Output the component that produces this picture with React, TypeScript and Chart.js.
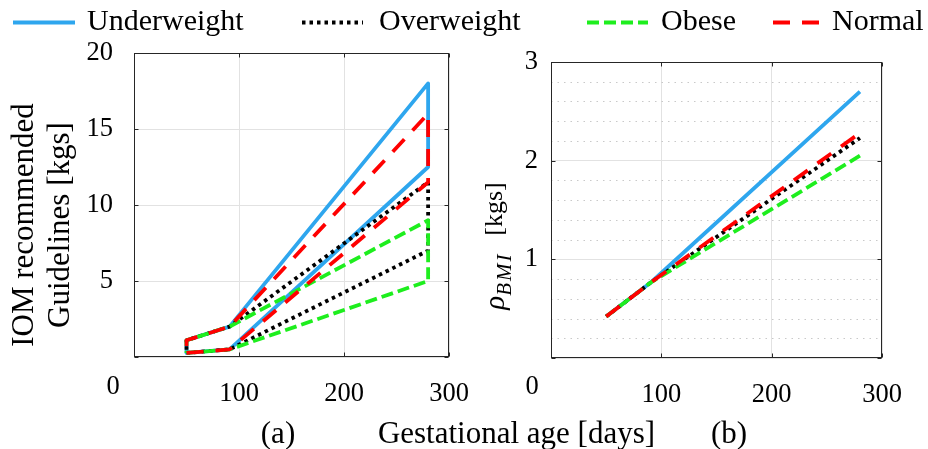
import React, { useEffect, useRef } from 'react';
import { Chart, registerables } from 'chart.js';

Chart.register(...registerables);

// ---------- data ----------
const seriesNames = ['Underweight', 'Overweight', 'Obese', 'Normal'];
const days = [50, 91, 280];

// (a) IOM recommended guideline bounds [kgs]
const underweightLow = [0.27, 0.5, 12.5];
const underweightHigh = [1.1, 2, 18];
const overweightLow = [0.27, 0.5, 7];
const overweightHigh = [1.1, 2, 11.5];
const obeseLow = [0.27, 0.5, 5];
const obeseHigh = [1.1, 2, 9];
const normalLow = [0.27, 0.5, 11.5];
const normalHigh = [1.1, 2, 16];

// (b) rho_BMI [kgs]
const underweightRho = [0.42, 0.77, 2.7];
const overweightRho = [0.42, 0.77, 2.23];
const obeseRho = [0.42, 0.77, 2.05];
const normalRho = [0.42, 0.77, 2.28];

const xTickValues = [0, 100, 200, 300];
const yTickValuesA = [0, 5, 10, 15, 20];
const yTickValuesB = [0, 1, 2, 3];

const xTitle = 'Gestational age [days]';
const yTitleA = ['IOM recommended', 'Guidelines [kgs]'];
const yTitleBUnit = '[kgs]';
const panelA = '(a)';
const panelB = '(b)';

// ---------- styles ----------
const FONT = '"Liberation Serif", "Times New Roman", serif';
const seriesStyle: Record<string, { color: string; dash: number[]; order: number }> = {
  Underweight: { color: '#2ea6ee', dash: [], order: 4 },
  Overweight: { color: '#000000', dash: [3.5, 4], order: 3 },
  Obese: { color: '#1eee1e', dash: [12, 5], order: 2 },
  Normal: { color: '#ff0000', dash: [17, 12], order: 1 },
};

function polygon(low: number[], high: number[]) {
  const pts: { x: number; y: number }[] = [];
  for (let i = 0; i < days.length; i++) pts.push({ x: days[i], y: low[i] });
  for (let i = days.length - 1; i >= 0; i--) pts.push({ x: days[i], y: high[i] });
  pts.push({ x: days[0], y: low[0] });
  return pts;
}
function series(vals: number[]) {
  return days.map((d, i) => ({ x: d, y: vals[i] }));
}

const framePlugin = {
  id: 'frame',
  beforeDatasetsDraw(chart: any, _args: any, opts: any) {
    const { ctx, chartArea: a, scales } = chart;
    if (opts && opts.minorStep) {
      const ys = scales.y;
      ctx.save();
      ctx.strokeStyle = '#c9c9c9';
      ctx.lineWidth = 1;
      ctx.setLineDash([1.5, 5]);
      const n = Math.round((ys.max - ys.min) / opts.minorStep);
      for (let k = 1; k < n; k++) {
        const v = ys.min + k * opts.minorStep;
        if (Math.abs(v - Math.round(v)) < 1e-6) continue;
        const py = Math.round(ys.getPixelForValue(v)) + 0.5;
        ctx.beginPath();
        ctx.moveTo(a.left, py);
        ctx.lineTo(a.right, py);
        ctx.stroke();
      }
      ctx.restore();
    }
  },
  afterDatasetsDraw(chart: any) {
    const { ctx, chartArea: a, scales } = chart;
    ctx.save();
    ctx.strokeStyle = '#262626';
    ctx.lineWidth = 1;
    ctx.setLineDash([]);
    const L = Math.round(a.left) + 0.5;
    const R = Math.round(a.right) - 0.5;
    const T = Math.round(a.top) + 0.5;
    const B = Math.round(a.bottom) - 0.5;
    ctx.strokeRect(L, T, R - L, B - T);
    const tl = 4;
    ctx.beginPath();
    for (const t of scales.x.ticks) {
      const px = Math.round(scales.x.getPixelForValue(t.value)) + 0.5;
      ctx.moveTo(px, B);
      ctx.lineTo(px, B - tl);
      ctx.moveTo(px, T);
      ctx.lineTo(px, T + tl);
    }
    for (const t of scales.y.ticks) {
      const py = Math.round(scales.y.getPixelForValue(t.value)) + 0.5;
      ctx.moveTo(L, py);
      ctx.lineTo(L + tl, py);
      ctx.moveTo(R, py);
      ctx.lineTo(R - tl, py);
    }
    ctx.stroke();
    ctx.restore();
  },
};

function makeOptions(
  yTicks: number[],
  pad: { top: number; right: number },
  yWidth: number,
  xHeight: number,
  yPad: number,
  minorStep: number | null
): any {
  return {
    responsive: false,
    animation: false,
    layout: { padding: { left: 0, top: pad.top, right: pad.right, bottom: 0 } },
    plugins: {
      legend: { display: false },
      tooltip: { enabled: false },
      frame: { minorStep },
    },
    elements: { point: { radius: 0 } },
    scales: {
      x: {
        type: 'linear',
        min: xTickValues[0],
        max: xTickValues[xTickValues.length - 1],
        afterBuildTicks: (s: any) => {
          s.ticks = xTickValues.map((v) => ({ value: v }));
        },
        afterFit: (s: any) => {
          s.height = xHeight;
        },
        ticks: {
          padding: 21,
          color: '#000',
          font: { family: FONT, size: 26.5 },
          maxRotation: 0,
          autoSkip: false,
          callback: (v: number) => (v === 0 ? '' : String(v)),
        },
        grid: { color: '#e2e2e2', lineWidth: 1, drawTicks: false },
        border: { display: false },
      },
      y: {
        type: 'linear',
        min: yTicks[0],
        max: yTicks[yTicks.length - 1],
        afterBuildTicks: (s: any) => {
          s.ticks = yTicks.map((v) => ({ value: v }));
        },
        afterFit: (s: any) => {
          s.width = yWidth;
        },
        ticks: {
          padding: yPad,
          color: '#000',
          font: { family: FONT, size: 26.5 },
          autoSkip: false,
          callback: (v: number) => (v === 0 ? '' : String(v)),
        },
        grid: { color: '#e2e2e2', lineWidth: 1, drawTicks: false },
        border: { display: false },
      },
    },
  };
}

function ds(name: string, data: { x: number; y: number }[]) {
  const st = seriesStyle[name];
  return {
    label: name,
    data,
    showLine: true,
    borderColor: st.color,
    backgroundColor: st.color,
    borderWidth: 3.8,
    borderDash: st.dash,
    borderJoinStyle: 'round',
    pointRadius: 0,
    fill: false,
    order: st.order,
    clip: false,
  };
}

const abs = (left: number, top: number, extra: React.CSSProperties = {}): React.CSSProperties => ({
  position: 'absolute',
  left,
  top,
  whiteSpace: 'nowrap',
  lineHeight: 1,
  color: '#000',
  fontFamily: FONT,
  ...extra,
});

export default function App() {
  const refA = useRef<HTMLCanvasElement>(null);
  const refB = useRef<HTMLCanvasElement>(null);

  useEffect(() => {
    document.body.style.margin = '0';
    const lowHigh: Record<string, [number[], number[]]> = {
      Underweight: [underweightLow, underweightHigh],
      Overweight: [overweightLow, overweightHigh],
      Obese: [obeseLow, obeseHigh],
      Normal: [normalLow, normalHigh],
    };
    const rho: Record<string, number[]> = {
      Underweight: underweightRho,
      Overweight: overweightRho,
      Obese: obeseRho,
      Normal: normalRho,
    };
    const chartA = new Chart(refA.current as HTMLCanvasElement, {
      type: 'scatter',
      data: { datasets: seriesNames.map((n) => ds(n, polygon(lowHigh[n][0], lowHigh[n][1]))) as any },
      options: makeOptions(yTickValuesA, { top: 53, right: 25 }, 134, 92, 21, null),
      plugins: [framePlugin],
    });
    const chartB = new Chart(refB.current as HTMLCanvasElement, {
      type: 'scatter',
      data: { datasets: seriesNames.map((n) => ds(n, series(rho[n]))) as any },
      options: makeOptions(yTickValuesB, { top: 62, right: 46 }, 61, 91, 13, 0.2),
      plugins: [framePlugin],
    });
    return () => {
      chartA.destroy();
      chartB.destroy();
    };
  }, []);

  const legendItems = [
    { name: 'Underweight', x1: 13, x2: 75, tx: 87 },
    { name: 'Overweight', x1: 302, x2: 363, tx: 379 },
    { name: 'Obese', x1: 587, x2: 648, tx: 661 },
    { name: 'Normal', x1: 773, x2: 823, tx: 832 },
  ];

  return (
    <div style={{ position: 'absolute', left: 0, top: 0, width: 928, height: 449, background: '#fff', overflow: 'hidden' }}>
      <canvas ref={refA} width={490} height={449} style={{ position: 'absolute', left: 0, top: 0, width: 490, height: 449 }} />
      <canvas ref={refB} width={438} height={449} style={{ position: 'absolute', left: 490, top: 0, width: 438, height: 449 }} />

      {/* legend */}
      <svg width={928} height={40} style={{ position: 'absolute', left: 0, top: 0 }}>
        {legendItems.map((it) => (
          <line
            key={it.name}
            x1={it.x1}
            x2={it.x2}
            y1={22.5}
            y2={22.5}
            stroke={seriesStyle[it.name].color}
            strokeWidth={3.8}
            strokeDasharray={seriesStyle[it.name].dash.length ? seriesStyle[it.name].dash.join(' ') : undefined}
          />
        ))}
      </svg>
      {legendItems.map((it) => (
        <div key={it.name + 't'} style={abs(it.tx, 5, { fontSize: 30 })}>
          {it.name}
        </div>
      ))}

      {/* y title (a) */}
      <div style={abs(21.5, 225, { fontSize: 31, transform: 'translate(-50%,-50%) rotate(-90deg)' })}>{yTitleA[0]}</div>
      <div style={abs(57.5, 225, { fontSize: 31, transform: 'translate(-50%,-50%) rotate(-90deg)' })}>{yTitleA[1]}</div>

      {/* y title (b) */}
      <div style={abs(494, 209, { fontSize: 26, transform: 'translate(-50%,-50%) rotate(-90deg)' })}>{yTitleBUnit}</div>
      <div style={abs(494, 281, { fontSize: 29, transform: 'translate(-50%,-50%) rotate(-90deg)' })}>
        <span style={{ fontStyle: 'italic' }}>ρ</span>
        <span style={{ fontStyle: 'italic', fontSize: 21, letterSpacing: 2, position: 'relative', top: 7 }}>BMI</span>
      </div>

      {/* corner zeros */}
      <div style={abs(113, 385, { fontSize: 26.5, transform: 'translate(-50%,-50%)' })}>0</div>
      <div style={abs(532, 385, { fontSize: 26.5, transform: 'translate(-50%,-50%)' })}>0</div>

      {/* bottom labels */}
      <div style={abs(278, 417, { fontSize: 31, transform: 'translateX(-50%)' })}>{panelA}</div>
      <div style={abs(516.5, 417, { fontSize: 31, transform: 'translateX(-50%)' })}>{xTitle}</div>
      <div style={abs(729, 417, { fontSize: 31, transform: 'translateX(-50%)' })}>{panelB}</div>
    </div>
  );
}
